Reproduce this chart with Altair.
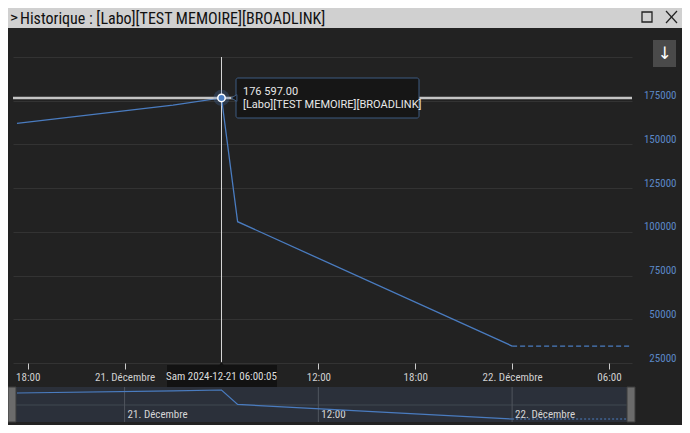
import altair as alt
import pandas as pd

# ---------------- data ----------------
times = ["2024-12-20T17:20:00", "2024-12-21T03:00:00", "2024-12-21T06:00:05",
         "2024-12-21T07:00:00", "2024-12-22T00:00:00"]
values = [162000, 172500, 176597, 105800, 34700]
now_time = "2024-12-22T07:25:30"

x_ticks = ["2024-12-20T18:00:00", "2024-12-21T00:00:00", "2024-12-21T12:00:00",
           "2024-12-21T18:00:00", "2024-12-22T00:00:00", "2024-12-22T06:00:00"]
nav_ticks = ["2024-12-21T00:00:00", "2024-12-21T12:00:00", "2024-12-22T00:00:00"]
nav_labels = ["21. Décembre", "12:00", "22. Décembre"]
y_ticks = [25000, 50000, 75000, 100000, 125000, 150000, 175000, 200000]
x_domain = ["2024-12-20T17:05:20", "2024-12-22T07:25:30"]
y_domain = [25000, 200000]

series_name = "[Labo][TEST MEMOIRE][BROADLINK]"
window_title = "Historique : [Labo][TEST MEMOIRE][BROADLINK]"
hover_label = "Sam 2024-12-21 06:00:05"

# ---------------- style ----------------
W, H = 619, 306
BG = "#222222"
LINE = "#4a7cc0"
YLAB = "#5b88c6"
COND = "Liberation Sans Narrow, Roboto Condensed, DejaVu Sans Condensed, sans-serif"
REG = "Roboto, sans-serif"


def dt(s):
    t = pd.Timestamp(s)
    return alt.DateTime(year=t.year, month=t.month, date=t.day,
                        hours=t.hour, minutes=t.minute, seconds=t.second)


xscale = alt.Scale(domain=[dt(s) for s in x_domain])
xaxis = alt.Axis(
    values=[dt(s) for s in x_ticks], title=None, grid=False, domain=False,
    ticks=True, tickColor="#cccccc", tickSize=6, labelColor="#d0d0d0",
    labelFont=COND, labelFontSize=11, labelPadding=2,
    labelExpr="hours(datum.value)==0 ? date(datum.value) + '. Décembre' : timeFormat(datum.value, '%H:%M')",
)


def X(field):
    return alt.X(field, type="temporal", scale=xscale, axis=xaxis)


yscale = alt.Scale(domain=y_domain, nice=False, zero=False)
yaxis = alt.Axis(
    orient="right", values=y_ticks, title=None, grid=True, gridColor="#333333",
    domain=False, ticks=False, labelColor=YLAB, labelFont=COND, labelFontSize=11,
    labelAlign="right", labelBaseline="middle", labelPadding=44, labelOffset=-5,
    labelExpr="datum.value >= 200000 ? '' : format(datum.value, 'd')",
)


def Ymain(field, axis=False):
    return alt.Y(field, type="quantitative", scale=yscale, axis=yaxis if axis else None)


df = pd.DataFrame({"t": times, "v": values})
ext = pd.DataFrame({"t": [times[-1], now_time], "v": [values[-1], values[-1]]})
pi = values.index(max(values))
peak = pd.DataFrame({
    "t": [times[pi]], "v": [values[pi]],
    "label": [f"{values[pi]:,.2f}".replace(",", " ")],
    "name": [series_name], "hover": [hover_label], "title": [window_title],
})
navdf = pd.DataFrame({"t": nav_ticks, "label": nav_labels})

nav_y = alt.Y("v", type="quantitative",
              scale=alt.Scale(domain=[min(values), max(values)], range=[362, 333], zero=False, nice=False),
              axis=None)

# ---------------- main plot ----------------
main_line = alt.Chart(df).mark_line(color=LINE, strokeWidth=1.3).encode(x=X("t"), y=Ymain("v", True))
ext_line = alt.Chart(ext).mark_line(color=LINE, strokeWidth=1.3, strokeDash=[5, 3]).encode(x=X("t"), y=Ymain("v"))

vline = alt.Chart(peak).mark_rule(color="#d8d8d8", strokeWidth=1).encode(
    x=X("t"), y=alt.value(0), y2=alt.value(H + 6))
hline = alt.Chart(peak).mark_rule(color="#c4c4c4", strokeWidth=2.5).encode(
    y=Ymain("v"), x=alt.value(0), x2=alt.value(W))
halo = alt.Chart(peak).mark_circle(color="#4a7cc0", opacity=0.25, size=260).encode(x=X("t"), y=Ymain("v"))
marker = alt.Chart(peak).mark_circle(fill=LINE, stroke="white", strokeWidth=1.5, size=55, opacity=1).encode(
    x=X("t"), y=Ymain("v"))

# tooltip
tip_box = alt.Chart(peak).mark_rect(fill="#161616", stroke="#3d5a80", strokeWidth=1, cornerRadius=2).encode(
    x=alt.value(223), x2=alt.value(406), y=alt.value(21), y2=alt.value(61))
tip_arrow = alt.Chart(peak).mark_point(shape="triangle-left", filled=True, fill="#161616",
                                       stroke="#3d5a80", strokeWidth=1, size=45, opacity=1).encode(
    x=alt.value(221), y=alt.value(41))
tip_v = alt.Chart(peak).mark_text(align="left", baseline="middle", font=REG, fontSize=11, color="#e8e8e8").encode(
    x=alt.value(230), y=alt.value(35), text="label")
tip_n = alt.Chart(peak).mark_text(align="left", baseline="middle", font=REG, fontSize=11, color="#e8e8e8").encode(
    x=alt.value(230), y=alt.value(48), text="name")

# crosshair x label
xl_box = alt.Chart(peak).mark_rect(fill="#121212", opacity=1).encode(
    x=alt.value(154), x2=alt.value(264), y=alt.value(308), y2=alt.value(330))
xl_arrow = alt.Chart(peak).mark_point(shape="triangle-up", filled=True, fill="#121212", size=30, opacity=1).encode(
    x=X("t"), y=alt.value(307))
xl_text = alt.Chart(peak).mark_text(align="center", baseline="middle", font=COND, fontSize=11, color="#dddddd").encode(
    x=X("t"), y=alt.value(320), text="hover")

# ---------------- navigator ----------------
nav_bg = alt.Chart(peak).mark_rect(fill="#2b303a").encode(
    x=alt.value(3), x2=alt.value(614), y=alt.value(330), y2=alt.value(365))
nav_sep = alt.Chart(peak).mark_rule(color="#3a404a", strokeWidth=1.5).encode(
    x=alt.value(3), x2=alt.value(614), y=alt.value(348))
nav_grid = alt.Chart(navdf).mark_rule(color="#50555e", strokeWidth=1).encode(
    x=X("t"), y=alt.value(330), y2=alt.value(365))
nav_text = alt.Chart(navdf).mark_text(align="left", baseline="middle", dx=3, font=COND, fontSize=11,
                                      color="#d6d6d6").encode(x=X("t"), y=alt.value(358), text="label")
nav_line = alt.Chart(df).mark_line(color=LINE, strokeWidth=1.2).encode(x=X("t"), y=nav_y)
nav_ext = alt.Chart(ext).mark_line(color=LINE, strokeWidth=1.2, strokeDash=[2, 2]).encode(x=X("t"), y=nav_y)
handle_l = alt.Chart(peak).mark_rect(fill="#6b6b6b", stroke="#3c3c3c", strokeWidth=1).encode(
    x=alt.value(-5), x2=alt.value(3), y=alt.value(330), y2=alt.value(365))
handle_r = alt.Chart(peak).mark_rect(fill="#6b6b6b", stroke="#3c3c3c", strokeWidth=1).encode(
    x=alt.value(614), x2=alt.value(622), y=alt.value(330), y2=alt.value(365))

# ---------------- window chrome ----------------
title_bar = alt.Chart(peak).mark_rect(fill="#d0d0d0").encode(
    x=alt.value(-5), x2=alt.value(669), y=alt.value(-49), y2=alt.value(-29))
chevron = alt.Chart(peak).mark_text(align="left", baseline="middle", font="DejaVu Sans", fontSize=10,
                                    fontWeight="bold", color="#111111", text=">").encode(
    x=alt.value(-3), y=alt.value(-39))
title_text = alt.Chart(peak).mark_text(align="left", baseline="middle", font=COND, fontSize=16,
                                       color="#111111").encode(x=alt.value(7), y=alt.value(-38.5), text="title")
max_box = alt.Chart(peak).mark_rect(fill="#d0d0d0", stroke="#222222", strokeWidth=1.3).encode(
    x=alt.value(629), x2=alt.value(639), y=alt.value(-45), y2=alt.value(-35))
close1 = alt.Chart(peak).mark_rule(color="#222222", strokeWidth=1.2).encode(
    x=alt.value(653), x2=alt.value(664), y=alt.value(-46), y2=alt.value(-34))
close2 = alt.Chart(peak).mark_rule(color="#222222", strokeWidth=1.2).encode(
    x=alt.value(664), x2=alt.value(653), y=alt.value(-46), y2=alt.value(-34))
btn = alt.Chart(peak).mark_rect(fill="#4a4a4a").encode(
    x=alt.value(640), x2=alt.value(663), y=alt.value(-17), y2=alt.value(10))
btn_arrow = alt.Chart(peak).mark_text(align="center", baseline="middle", font="DejaVu Sans", fontSize=17,
                                      color="#ffffff", text="↓").encode(
    x=alt.value(651.5), y=alt.value(-3))

chart = alt.layer(
    main_line, ext_line, vline, hline, halo, marker,
    tip_box, tip_arrow, tip_v, tip_n,
    nav_bg, nav_sep, nav_grid, nav_text, nav_line, nav_ext, handle_l, handle_r,
    xl_box, xl_arrow, xl_text,
    title_bar, chevron, title_text, max_box, close1, close2, btn, btn_arrow,
).resolve_scale(y="independent").properties(
    width=W, height=H,
    autosize=alt.AutoSizeParams(type="none"),
    padding={"left": 5, "top": 49, "right": 50, "bottom": 62},
    background=BG,
).configure_view(stroke=None, fill=BG)

chart.save("out.html", embed_options={"renderer": "svg", "actions": False})
